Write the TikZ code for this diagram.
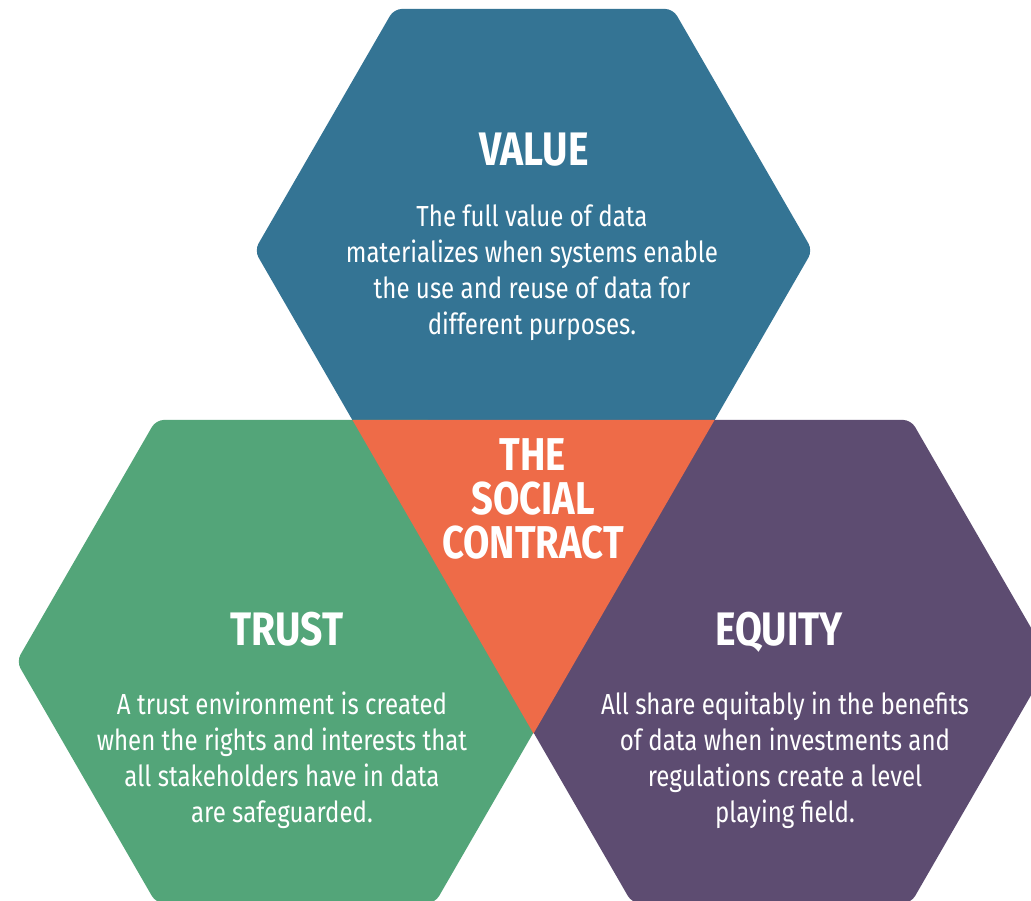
\documentclass[tikz,border=0pt]{standalone}
\usepackage{fontspec}
\setmainfont[FakeStretch=0.83]{Fira Sans}
\definecolor{hexblue}{HTML}{347494}
\definecolor{hexgreen}{HTML}{53A579}
\definecolor{hexorange}{HTML}{EE6B48}
\definecolor{hexpurple}{HTML}{5D4C71}
\begin{document}
\begin{tikzpicture}[x=1pt,y=-1pt,
  hexa/.style={rounded corners=8pt},
  title/.style={text=white,font=\fontsize{47}{50}\selectfont\bfseries,inner sep=0pt,anchor=base},
  body/.style={text=white,font=\fontsize{29}{36}\selectfont,align=center,inner sep=0pt},
  center/.style={text=white,font=\fontsize{46}{44}\selectfont\bfseries,align=center,inner sep=0pt}]
\useasboundingbox (0,0) rectangle (1031,901);
\clip (0,0) rectangle (1031,901);
\fill[white] (0,0) rectangle (1031,901);
% blue hexagon (VALUE)
\fill[hexblue,hexa] (254.5,250.5) -- (394,8.9) -- (673,8.9) -- (812.5,250.5) -- (673,492.1) -- (394,492.1) -- cycle;
% green hexagon (TRUST)
\fill[hexgreen,hexa] (16.5,661.5) -- (156,419.9) -- (435,419.9) -- (574.5,661.5) -- (435,903.1) -- (156,903.1) -- cycle;
% purple hexagon (EQUITY)
\fill[hexpurple,hexa] (492.5,661.5) -- (632,419.9) -- (911,419.9) -- (1050.5,661.5) -- (911,903.1) -- (632,903.1) -- cycle;
% orange triangle
\fill[hexorange] (352.4,419.9) -- (714.6,419.9) -- (533.5,733.6) -- cycle;
% texts
\node[title] (valuet) at (534,166) {VALUE};
\node[body] (valueb) at (532,273) {The full value of data\\materializes when systems enable\\the use and reuse of data for\\different purposes.};
\node[center] (social) at (533,499) {THE\\SOCIAL\\CONTRACT};
\node[title] (trustt) at (287,645) {TRUST};
\node[body] (trustb) at (282,760) {A trust environment is created\\when the rights and interests that\\all stakeholders have in data\\are safeguarded.};
\node[title] (equityt) at (779,645) {EQUITY};
\node[body] (equityb) at (785,760) {All share equitably in the benefits\\of data when investments and\\regulations create a level\\playing field.};
\end{tikzpicture}
\end{document}
